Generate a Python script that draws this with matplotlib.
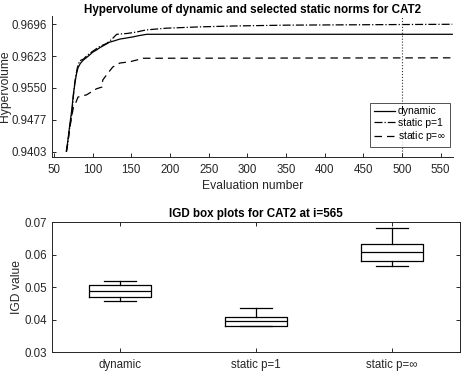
import numpy as np
import matplotlib
matplotlib.use('Agg')
import matplotlib.pyplot as plt

plt.rcParams['font.family'] = ['Liberation Sans', 'DejaVu Sans']

# hypervolume curves (evaluation number, hypervolume)
dyn_x = [66, 68, 70, 73, 75, 77, 79, 81, 84, 88, 93, 97, 100, 105, 109, 115, 122, 128, 135, 142, 152, 160, 170, 565]
dyn_y = [0.9405, 0.9430, 0.9460, 0.9500, 0.9535, 0.9560, 0.9582, 0.9596, 0.9606, 0.9614, 0.9621, 0.9627, 0.9632, 0.9637, 0.9642, 0.9648, 0.9655, 0.9658, 0.9662, 0.9664, 0.9667, 0.9670, 0.9673, 0.9673]

p1_x = [66, 68, 70, 73, 75, 77, 80, 83, 88, 93, 100, 109, 118, 125, 131, 145, 156, 169, 195, 238, 281, 350, 565]
p1_y = [0.9403, 0.9425, 0.9455, 0.9490, 0.9530, 0.9565, 0.9595, 0.9612, 0.9616, 0.9625, 0.9634, 0.9645, 0.9652, 0.9662, 0.9673, 0.9675, 0.9678, 0.9683, 0.9687, 0.9690, 0.9692, 0.9694, 0.9696]

pinf_x = [66, 68, 70, 73, 75, 77, 81, 92, 105, 112, 113, 118, 126, 135, 148, 157, 165, 565]
pinf_y = [0.9404, 0.9425, 0.9455, 0.9485, 0.9505, 0.9511, 0.9529, 0.9534, 0.9548, 0.9552, 0.9568, 0.9580, 0.9598, 0.9607, 0.9610, 0.9614, 0.9618, 0.9619]

hv_ticks = [0.94033, 0.947655, 0.95498, 0.962305, 0.96963]
eval_ticks = [50, 100, 150, 200, 250, 300, 350, 400, 450, 500, 550]
marker_eval = 500

# IGD box plot statistics
box_labels = ['dynamic', 'static p=1', 'static p=\u221e']
box_low = [0.0459, 0.0380, 0.0566]
box_q1 = [0.0471, 0.0382, 0.0582]
box_med = [0.0488, 0.0396, 0.0610]
box_q3 = [0.0507, 0.0408, 0.0635]
box_high = [0.0521, 0.0436, 0.0683]

spine_c = '#262626'

fig = plt.figure(figsize=(4.61, 3.78), dpi=100)

# top plot
ax1 = fig.add_axes([0.1128, 0.5847, 0.870, 0.373])
ax1.plot(dyn_x, dyn_y, color='black', lw=0.9, ls='-', label='dynamic')
ax1.plot(p1_x, p1_y, color='black', lw=0.9, ls='-.', label='static p=1')
ax1.plot(pinf_x, pinf_y, color='black', lw=0.9, ls=(0, (6, 4)), label='static p=$\\infty$')
ax1.axvline(marker_eval, color='#333333', ls=':', lw=0.8)
ax1.set_xlim(47.4, 566)
ax1.set_ylim(0.93915, 0.9715)
ax1.set_xticks(eval_ticks)
ax1.set_yticks(hv_ticks)
ax1.set_yticklabels(['%.4f' % v for v in hv_ticks])
for s in ['top', 'right']:
    ax1.spines[s].set_visible(False)
for s in ['left', 'bottom']:
    ax1.spines[s].set_color(spine_c)
    ax1.spines[s].set_linewidth(0.7)
ax1.tick_params(direction='in', length=3, width=0.7, colors=spine_c, labelsize=8.3)
ax1.tick_params(axis='x', pad=5)
ax1.set_xlabel('Evaluation number', fontsize=8.7, color=spine_c, labelpad=3)
ax1.set_ylabel('Hypervolume', fontsize=8.7, color=spine_c)
ax1.yaxis.set_label_coords(-0.102, 0.5)
ax1.set_title('Hypervolume of dynamic and selected static norms for CAT2',
              fontsize=8.4, fontweight='bold', pad=2.5)
leg = ax1.legend(loc='lower right', bbox_to_anchor=(0.9925, 0.071), fontsize=7.5,
                 frameon=True, fancybox=False, edgecolor=spine_c, handlelength=2.0,
                 borderpad=0.35, labelspacing=0.15, handletextpad=0.3,
                 borderaxespad=0)
leg.get_frame().set_linewidth(0.7)

# bottom plot
ax2 = fig.add_axes([0.1128, 0.068, 0.885, 0.3434])
stats = []
for i in range(len(box_labels)):
    stats.append({'whislo': box_low[i], 'q1': box_q1[i], 'med': box_med[i],
                  'q3': box_q3[i], 'whishi': box_high[i], 'label': box_labels[i],
                  'fliers': []})
ax2.bxp(stats, positions=[1, 2, 3], widths=0.455, showfliers=False,
        boxprops=dict(color='black', lw=0.9),
        medianprops=dict(color='black', lw=0.9),
        whiskerprops=dict(color='black', lw=0.9),
        capprops=dict(color='black', lw=0.9), capwidths=0.235)
ax2.set_xlim(0.5, 3.5)
ax2.set_ylim(0.03, 0.07)
ax2.set_yticks([0.03, 0.04, 0.05, 0.06, 0.07])
ax2.set_yticklabels(['0.03', '0.04', '0.05', '0.06', '0.07'])
for s in ax2.spines.values():
    s.set_color(spine_c)
    s.set_linewidth(0.7)
ax2.tick_params(direction='in', length=3, width=0.7, colors=spine_c, labelsize=8.3,
                top=True, right=True)
ax2.tick_params(axis='x', pad=5)
ax2.set_ylabel('IGD value', fontsize=8.7, color=spine_c)
ax2.yaxis.set_label_coords(-0.072, 0.5)
ax2.set_title('IGD box plots for CAT2 at i=565', fontsize=8.4, fontweight='bold', pad=4)

fig.savefig('out.png', dpi=100)
